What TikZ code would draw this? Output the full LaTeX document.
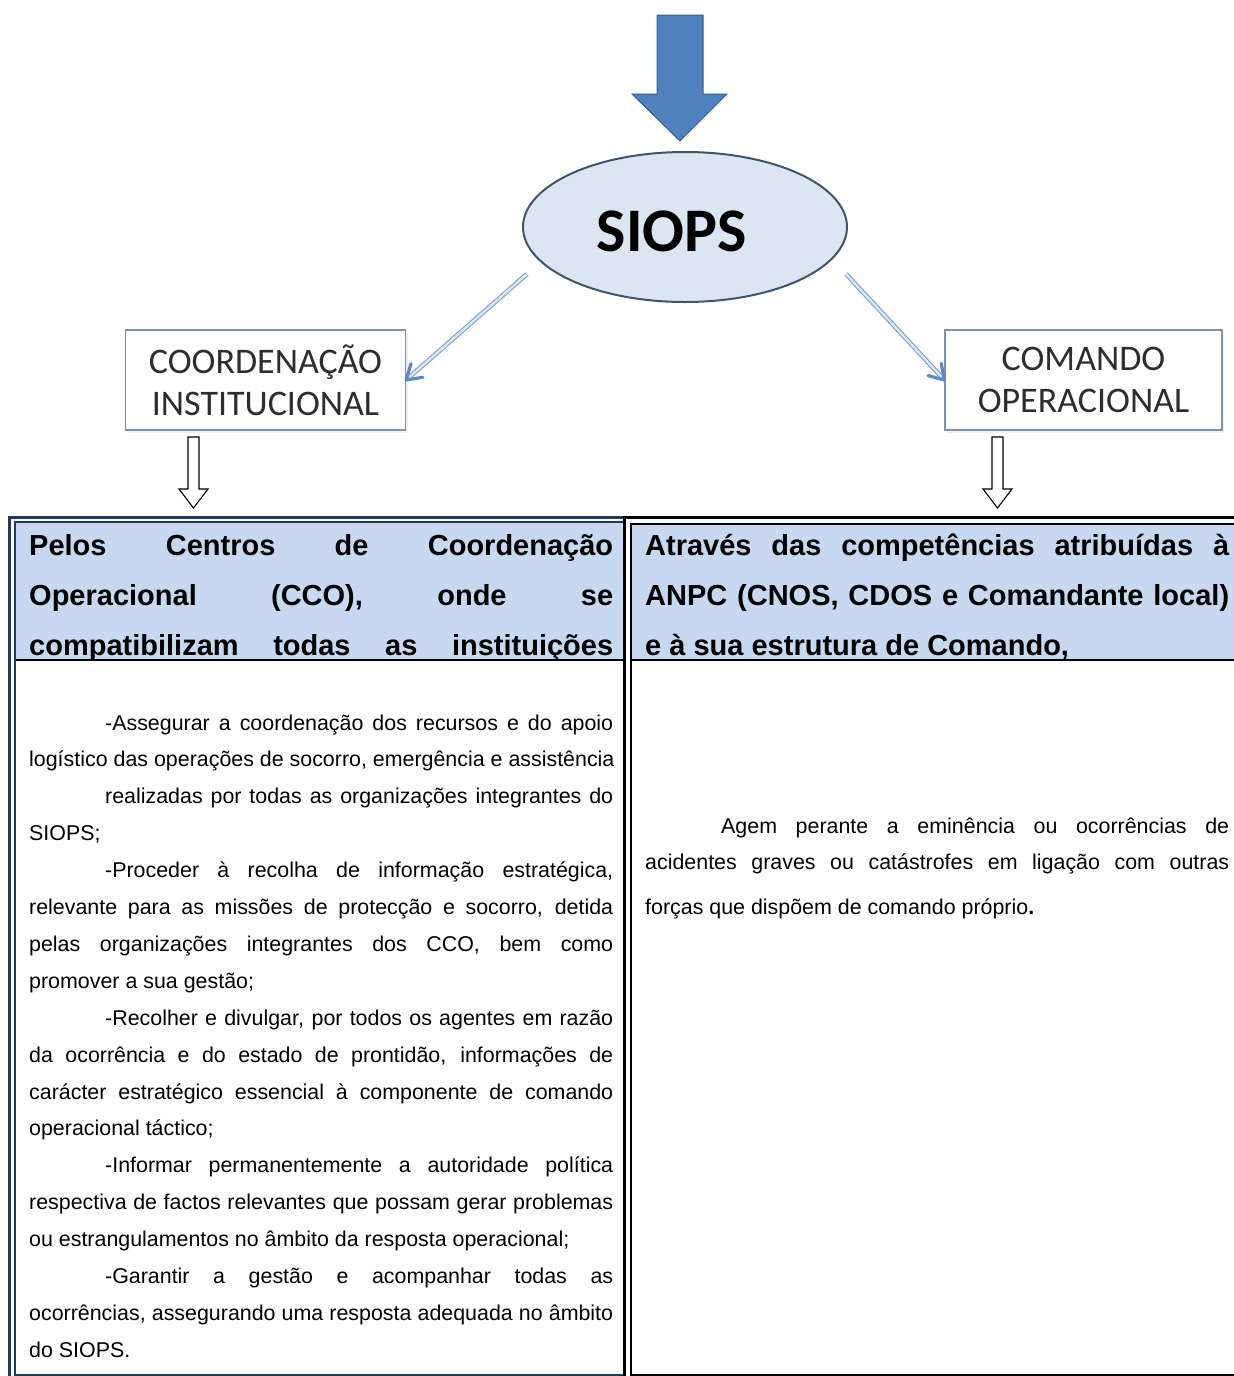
\documentclass[tikz,border=0pt]{standalone}
\usepackage{fontspec}
\setmainfont{Liberation Sans}
\newfontfamily\calibfont{Carlito}
\usepackage{xcolor}
\usepackage{tikz}
\usetikzlibrary{arrows.meta,positioning,shapes.geometric,calc,shadows}
\definecolor{siopsblue}{RGB}{79,129,189}
\definecolor{siopsedge}{RGB}{56,93,138}
\definecolor{ovalfill}{RGB}{220,230,242}
\definecolor{ovaledge}{RGB}{64,84,112}
\definecolor{boxedge}{RGB}{125,145,175}
\definecolor{linkblue}{RGB}{95,135,195}
\definecolor{navyrule}{RGB}{31,56,100}
\definecolor{headfill}{RGB}{198,217,241}
\definecolor{labeltext}{RGB}{45,45,45}
\setlength{\parindent}{0pt}
% justified line: spaces stretch evenly to the column width
\newcommand{\fullline}[1]{\makebox[584pt][s]{\spaceskip=0.278em plus 1fil\relax\strut#1}}
\newcommand{\ind}{\hspace*{76pt}}
\newcommand{\plainspaces}{\spaceskip=0.278em\relax}

\begin{document}
\begin{tikzpicture}[x=1pt,y=-1pt,
  branchbox/.style={draw=boxedge,line width=1.2pt,fill=white,minimum height=100pt,
    align=center,text=labeltext,font=\calibfont\fontsize{36}{42}\selectfont,
    drop shadow={opacity=0.12,shadow xshift=2pt,shadow yshift=-3pt}},
  linkshaft/.style={draw=linkblue!80,double=linkblue!22,double distance=2.4pt,line width=1.1pt},
  linkvee/.style={draw=linkblue,line width=3.2pt,line cap=round,line join=round},
  hollow/.style={draw=black,line width=1.1pt,fill=white},
  headtext/.style={inner sep=0pt,text width=584pt,align=left,
    font=\bfseries\fontsize{29}{50}\selectfont,execute at begin node=\plainspaces},
  bodytext/.style={inner sep=0pt,text width=584pt,align=left,
    font=\fontsize{21.4}{36.9}\selectfont,execute at begin node=\plainspaces}]
  \useasboundingbox (0,0) rectangle (1234,1376);
  % ---- TOP: incoming arrow and SIOPS oval ----
  \draw[fill=siopsblue,draw=siopsedge,line width=1pt]
    (657,15) -- (703,15) -- (703,94) -- (727,94) -- (680,141) -- (632,94) -- (657,94) -- cycle;
  \node[ellipse,draw=ovaledge,line width=2pt,fill=ovalfill,minimum width=324pt,
        minimum height=150pt,inner sep=0pt] (siops) at (685,227) {};
  \node[font=\calibfont\bfseries\fontsize{62}{62}\selectfont] (siopslabel) at (672,231) {SIOPS};
  % ---- the two branches ----
  \node[branchbox,minimum width=280pt] (coord) at (265.5,380) {COORDENAÇÃO\\INSTITUCIONAL};
  \node[branchbox,minimum width=277pt] (comando) at (1083.5,380) {COMANDO\\OPERACIONAL};
  \coordinate (sl) at (527,274);
  \coordinate (sr) at (846,274);
  \draw[linkshaft] (sl) -- ($(sl)!0.98!(coord.east)$);
  \draw[linkshaft] (sr) -- ($(sr)!0.98!(comando.west)$);
  \draw[linkvee] ($(coord.east)!17pt!32:(sl)$) -- (coord.east) -- ($(coord.east)!17pt!-32:(sl)$);
  \draw[linkvee] ($(comando.west)!17pt!32:(sr)$) -- (comando.west) -- ($(comando.west)!17pt!-32:(sr)$);
  % ---- hollow arrows down to the table ----
  \coordinate (coordout) at (193.5,437);
  \coordinate (comout) at (997.5,437);
  \foreach \c in {coordout,comout}{
    \draw[hollow] ($(\c)+(-5.5,0)$) -- ++(11,0) -- ++(0,52) -- ++(9,0)
      -- ++(-14.5,19) -- ++(-14.5,-19) -- ++(9,0) -- cycle;}
  % ---- table: header fills and rules ----
  \fill[headfill] (16,523) rectangle (623,660);
  \fill[headfill] (632,525) rectangle (1234,660);
  \draw[line width=2pt] (16,660) -- (623,660);
  \draw[line width=2pt] (632,660) -- (1234,660);
  \draw[navyrule,line width=3pt] (9.5,1376) -- (9.5,517.5) -- (623,517.5);
  \draw[navyrule,line width=2pt] (15,1376) -- (15,522) -- (623,522);
  \draw[navyrule,line width=2pt] (15,1375) -- (623,1375);
  \draw[line width=3pt] (623,517.5) -- (1234,517.5);
  \draw[line width=3pt] (624.5,519) -- (624.5,1376);
  \draw[line width=2pt] (631,1376) -- (631,524) -- (1234,524);
  \draw[line width=2pt] (631,1375) -- (1234,1375);
  % ---- table: header texts ----
  \node[headtext,anchor=north west] (ccohead) at (29,520) {%
    \fullline{Pelos Centros de Coordenação}\\
    \fullline{Operacional (CCO), onde se}\\
    \fullline{compatibilizam todas as instituições}};
  \node[headtext,anchor=north west] (anpchead) at (645,520) {%
    \fullline{Através das competências atribuídas à}\\
    \fullline{ANPC (CNOS, CDOS e Comandante local)}\\
    \strut e à sua estrutura de Comando,};
  % ---- table: body texts ----
  \node[bodytext,anchor=north west] (ccobody) at (29,704) {%
    \fullline{\ind-Assegurar a coordenação dos recursos e do apoio}\\
    \fullline{logístico das operações de socorro, emergência e assistência}\\
    \fullline{\ind realizadas por todas as organizações integrantes do}\\
    \strut SIOPS;\\
    \fullline{\ind-Proceder à recolha de informação estratégica,}\\
    \fullline{relevante para as missões de protecção e socorro, detida}\\
    \fullline{pelas organizações integrantes dos CCO, bem como}\\
    \strut promover a sua gestão;\\
    \fullline{\ind-Recolher e divulgar, por todos os agentes em razão}\\
    \fullline{da ocorrência e do estado de prontidão, informações de}\\
    \fullline{carácter estratégico essencial à componente de comando}\\
    \strut operacional táctico;\\
    \fullline{\ind-Informar permanentemente a autoridade política}\\
    \fullline{respectiva de factos relevantes que possam gerar problemas}\\
    \strut ou estrangulamentos no âmbito da resposta operacional;\\
    \fullline{\ind-Garantir a gestão e acompanhar todas as}\\
    \fullline{ocorrências, assegurando uma resposta adequada no âmbito}\\
    \strut do SIOPS.};
  \node[bodytext,anchor=north west] (anpcbody) at (645,807) {%
    \fullline{\ind Agem perante a eminência ou ocorrências de}\\
    \fullline{acidentes graves ou catástrofes em ligação com outras}\\[8.1pt]
    \strut forças que dispõem de comando próprio\textbf{.}};
\end{tikzpicture}
\end{document}
